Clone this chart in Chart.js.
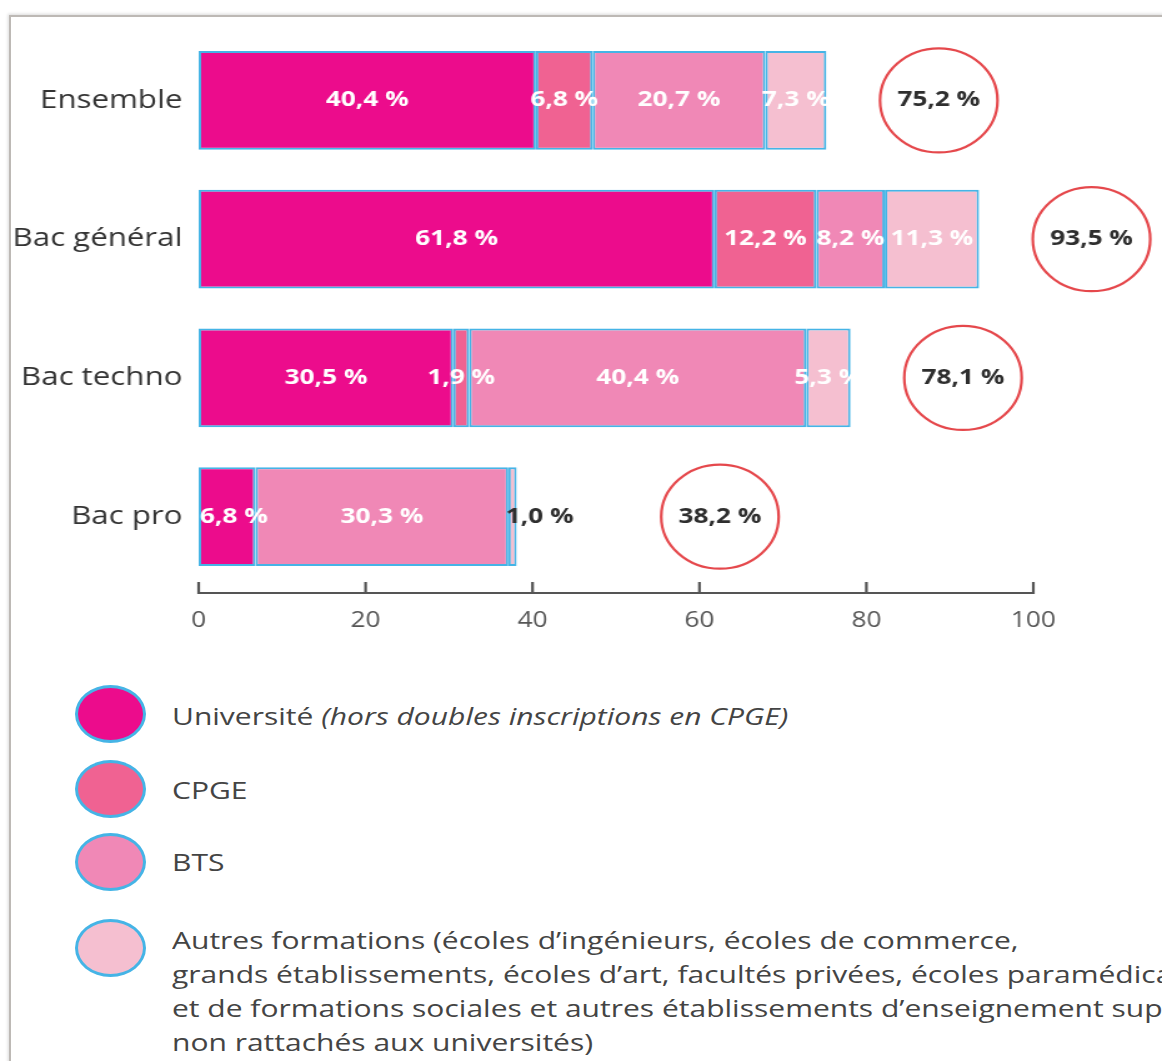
<!DOCTYPE html>
<html>
<head>
<meta charset="utf-8">
<script src="https://cdn.jsdelivr.net/npm/chart.js@4.4.1/dist/chart.umd.min.js"></script>
<style>
  body { margin: 0; background: #fff; width: 1162px; height: 1061px; overflow: hidden; position: relative; font-family: "Open Sans", sans-serif; }
  #frame { position: absolute; left: 9px; top: 15px; width: 1200px; height: 1100px;
           border-top: 2px solid #bdb9b5; border-left: 2px solid #bdb9b5;
           box-shadow: -1px -1px 3px rgba(0,0,0,0.15); }
  #wrap { position: absolute; left: 0; top: 0; width: 1162px; height: 650px; }
  /* the source picture is stretched sideways, so the canvas is too */
  #canvas { width: 1162px; height: 650px; }
  #legend { position: absolute; left: 0; top: 0; width: 1162px; }
  .dot { position: absolute; left: 75px; width: 65px; height: 52px; border-radius: 50%; border: 3px solid #45b4e6; }
  .txt { position: absolute; left: 172px; font-size: 24.5px; color: #444; white-space: nowrap; line-height: 34px;
         transform: scaleX(1.225); transform-origin: left top; }
</style>
</head>
<body>
<div id="frame"></div>
<div id="wrap"><canvas id="canvas" width="930" height="650" style="width:1162px;height:650px"></canvas></div>
<div id="legend"></div>
<script>
const categories = ['Ensemble', 'Bac général', 'Bac techno', 'Bac pro'];
const universite = [40.4, 61.8, 30.5, 6.8];
const cpge = [6.8, 12.2, 1.9, 0];
const bts = [20.7, 8.2, 40.4, 30.3];
const autres = [7.3, 11.3, 5.3, 1.0];
const totals = [75.2, 93.5, 78.1, 38.2];
const xTicks = [0, 20, 40, 60, 80, 100];

const seriesNames = ['Université', 'CPGE', 'BTS', 'Autres formations'];
const colors = ['#ec0c8c', '#f06292', '#f088b6', '#f5bfd0'];

const fmt = v => v.toFixed(1).replace('.', ',') + ' %';

// labels in the bars, totals in red circles, axis with upward ticks
const decor = {
  id: 'decor',
  afterDatasetsDraw(chart) {
    const ctx = chart.ctx;
    const n = chart.data.datasets.length;
    ctx.save();
    ctx.font = 'bold 21px "Open Sans"';
    ctx.textBaseline = 'middle';
    const outside = [];
    chart.data.datasets.forEach((ds, i) => {
      const meta = chart.getDatasetMeta(i);
      meta.data.forEach((bar, j) => {
        const v = ds.data[j];
        if (!v) return;
        const w = bar.x - bar.base;
        const tw = ctx.measureText(fmt(v)).width;
        if (i === n - 1 && w < 10) {
          ctx.fillStyle = '#2e2e2e';
          ctx.textAlign = 'left';
          ctx.fillText(fmt(v), bar.base - 2, bar.y);
          outside[j] = bar.base - 2 + tw;
        } else if (i === 0 && tw > w) {
          ctx.fillStyle = '#ffffff';
          ctx.textAlign = 'left';
          ctx.fillText(fmt(v), bar.base + 1, bar.y);
        } else {
          ctx.fillStyle = '#ffffff';
          ctx.textAlign = 'center';
          ctx.fillText(fmt(v), (bar.x + bar.base) / 2, bar.y);
        }
      });
    });

    const last = chart.getDatasetMeta(n - 1);
    last.data.forEach((bar, j) => {
      const cx = outside[j] ? outside[j] + 117 : bar.x + 90;
      const cy = bar.y;
      ctx.beginPath();
      ctx.ellipse(cx, cy, 47, 52, 0, 0, Math.PI * 2);
      ctx.strokeStyle = '#e5484c';
      ctx.lineWidth = 2.2;
      ctx.stroke();
      ctx.fillStyle = '#2e2e2e';
      ctx.textAlign = 'center';
      ctx.fillText(fmt(totals[j]), cx, cy);
    });

    const xs = chart.scales.x;
    const y0 = chart.chartArea.bottom + 7;
    ctx.strokeStyle = '#555';
    ctx.lineWidth = 2.2;
    ctx.beginPath();
    ctx.moveTo(xs.getPixelForValue(xTicks[0]), y0);
    ctx.lineTo(xs.getPixelForValue(xTicks[xTicks.length - 1]), y0);
    xTicks.forEach(t => {
      const px = xs.getPixelForValue(t);
      ctx.moveTo(px, y0 + 1);
      ctx.lineTo(px, y0 - 11);
    });
    ctx.stroke();
    ctx.restore();
  }
};

const ctx = document.getElementById('canvas').getContext('2d');
const data = [universite, cpge, bts, autres];

new Chart(ctx, {
  type: 'bar',
  data: {
    labels: categories,
    datasets: data.map((d, i) => ({
      label: seriesNames[i],
      data: d,
      backgroundColor: colors[i],
      borderColor: '#45b4e6',
      borderWidth: 2,
      borderSkipped: false,
      barPercentage: 0.71,
      categoryPercentage: 1
    }))
  },
  options: {
    indexAxis: 'y',
    responsive: false,
    animation: false,
    layout: { padding: { top: 31, right: 103, left: 0, bottom: 0 } },
    scales: {
      x: {
        stacked: true,
        min: 0,
        max: 100,
        afterFit: s => { s.height = 64; },
        afterBuildTicks: s => { s.ticks = xTicks.map(v => ({ value: v })); },
        grid: { display: false, drawTicks: false },
        border: { display: false },
        ticks: { padding: 22, color: '#555', font: { family: 'Open Sans', size: 21 } }
      },
      y: {
        stacked: true,
        afterFit: s => { s.width = 159; },
        grid: { display: false, drawTicks: false },
        border: { display: false },
        ticks: { padding: 13, color: '#333', font: { family: 'Open Sans', size: 25 } }
      }
    },
    plugins: {
      legend: { display: false },
      tooltip: { enabled: false }
    }
  },
  plugins: [decor]
});

// legend below the chart
const legendRows = [
  { top: 685, html: 'Université <i>(hors doubles inscriptions en CPGE)</i>', textTop: 699 },
  { top: 760, html: 'CPGE', textTop: 773 },
  { top: 833, html: 'BTS', textTop: 845 },
  { top: 919, html: 'Autres formations (écoles d’ingénieurs, écoles de commerce,<br>grands établissements, écoles d’art, facultés privées, écoles paramédicales<br>et de formations sociales et autres établissements d’enseignement supérieur<br>non rattachés aux universités)', textTop: 923 }
];
const legend = document.getElementById('legend');
legendRows.forEach((r, i) => {
  const dot = document.createElement('div');
  dot.className = 'dot';
  dot.style.top = r.top + 'px';
  dot.style.background = colors[i];
  const txt = document.createElement('div');
  txt.className = 'txt';
  txt.style.top = r.textTop + 'px';
  txt.innerHTML = r.html;
  legend.appendChild(dot);
  legend.appendChild(txt);
});
</script>
</body>
</html>
